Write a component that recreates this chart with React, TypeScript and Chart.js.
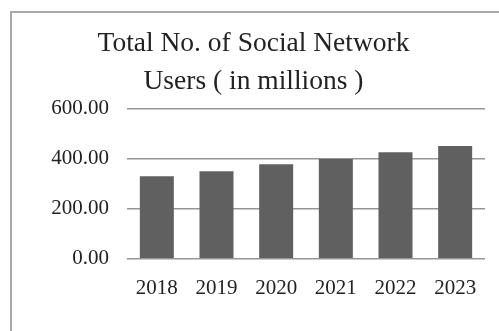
import React, { useEffect, useRef } from "react";
import { Chart, registerables } from "chart.js";

Chart.register(...registerables);

const categories = ["2018", "2019", "2020", "2021", "2022", "2023"];
const users = [329, 349, 377, 398, 425, 450];
const titleLines = ["Total No. of Social Network", "Users ( in millions )"];
const yTicks = [0, 200, 400, 600];

const FONT = "'Liberation Serif', 'Times New Roman', serif";

export default function App() {
  const ref = useRef<HTMLCanvasElement | null>(null);

  useEffect(() => {
    if (!ref.current) return;
    const chart = new Chart(ref.current, {
      type: "bar",
      data: {
        labels: categories,
        datasets: [
          {
            data: users,
            backgroundColor: "#606060",
            borderWidth: 0,
            barPercentage: 0.57,
            categoryPercentage: 1,
          },
        ],
      },
      options: {
        animation: false,
        responsive: false,
        maintainAspectRatio: false,
        layout: { padding: { left: 22, right: 14, top: 0, bottom: 13 } },
        plugins: {
          legend: { display: false },
          tooltip: { enabled: false },
          title: {
            display: true,
            text: titleLines,
            color: "#222222",
            font: { family: FONT, size: 27.5, weight: "normal", lineHeight: 1.37 },
            padding: { top: 25, bottom: 8 },
          },
        },
        scales: {
          x: {
            grid: { display: false, drawTicks: false },
            border: { display: false },
            ticks: {
              color: "#222222",
              font: { family: FONT, size: 21 },
              padding: 17,
              maxRotation: 0,
            },
          },
          y: {
            min: 0,
            max: 600,
            afterFit: (scale: any) => {
              scale.width = 105;
            },
            afterBuildTicks: (scale: any) => {
              scale.ticks = yTicks.map((v) => ({ value: v }));
            },
            grid: { color: "#969696", lineWidth: 1.5, drawTicks: false },
            border: { display: false },
            ticks: {
              color: "#222222",
              font: { family: FONT, size: 21 },
              padding: 18,
              callback: (v: any) => Number(v).toFixed(2),
            },
          },
        },
      },
    });
    return () => chart.destroy();
  }, []);

  return (
    <div style={{ position: "fixed", left: 0, top: 0, width: 499, height: 331, background: "#fff", overflow: "hidden" }}>
      <div
        style={{
          position: "absolute",
          left: 10,
          top: 11,
          width: 600,
          height: 400,
          borderLeft: "2px solid #a8a8a8",
          borderTop: "2px solid #a8a8a8",
        }}
      />
      <canvas ref={ref} width={499} height={331} style={{ position: "absolute", left: 0, top: 0 }} />
    </div>
  );
}
